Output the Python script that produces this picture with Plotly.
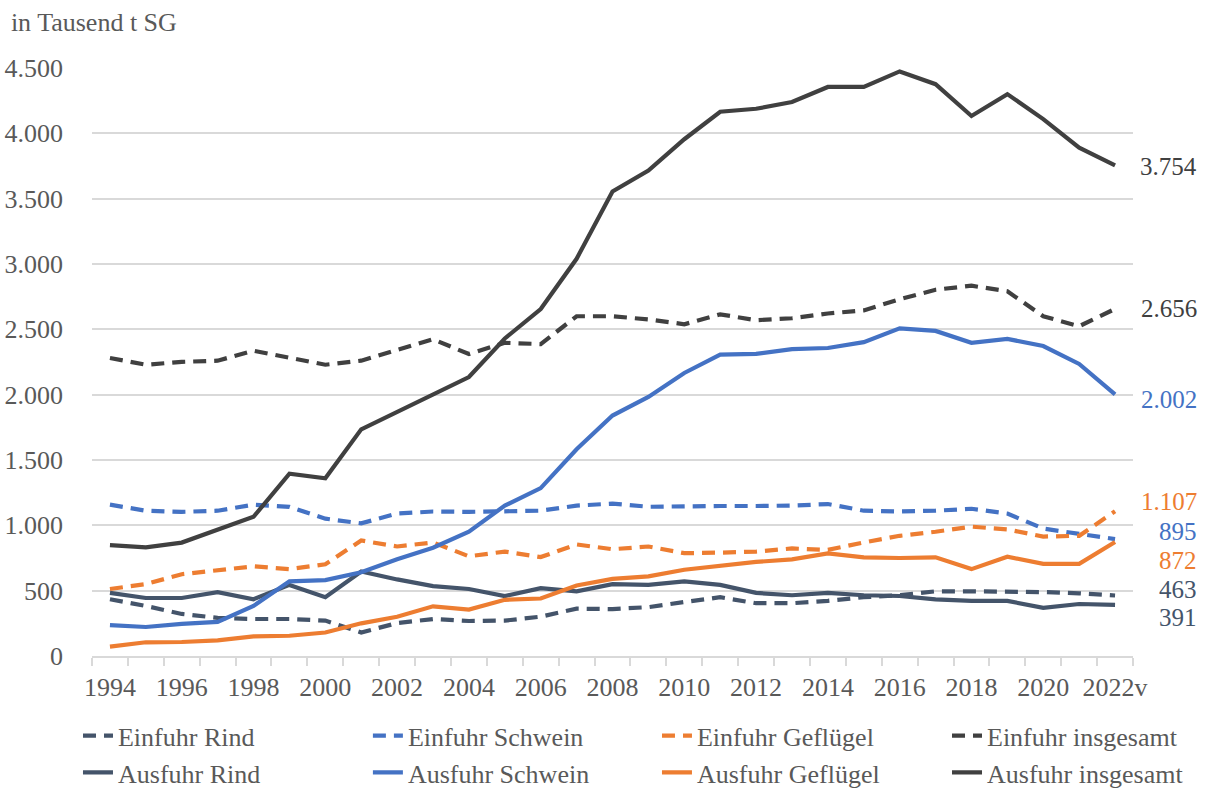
import plotly.graph_objects as go

years = list(range(1994, 2023))
tick_years = list(range(1994, 2023, 2))
tick_text = [str(y) for y in tick_years[:-1]] + ["2022v"]

einfuhr_rind = [434, 383, 322, 292, 283, 283, 271, 180, 252, 283, 268, 271, 301, 362, 359,
                374, 413, 450, 404, 404, 422, 450, 465, 495, 495, 495, 489, 480, 463]
einfuhr_schwein = [1158, 1112, 1103, 1112, 1158, 1142, 1051, 1015, 1090, 1106, 1103, 1106, 1112, 1151, 1166,
                   1142, 1148, 1148, 1148, 1151, 1163, 1112, 1106, 1112, 1127, 1090, 975, 939, 895]
einfuhr_gefluegel = [513, 550, 626, 656, 686, 665, 702, 884, 838, 869, 763, 799, 757, 854, 817,
                     838, 787, 791, 799, 823, 812, 869, 920, 951, 990, 969, 914, 920, 1107]
einfuhr_gesamt = [2281, 2229, 2251, 2260, 2336, 2281, 2229, 2260, 2342, 2424, 2311, 2397, 2387, 2600, 2600,
                  2576, 2539, 2615, 2570, 2585, 2621, 2645, 2730, 2803, 2834, 2791, 2600, 2524, 2656]
ausfuhr_rind = [483, 444, 444, 489, 434, 544, 450, 647, 586, 535, 513, 459, 519, 495, 550,
                544, 571, 544, 483, 465, 483, 465, 459, 434, 422, 422, 368, 398, 391]
ausfuhr_schwein = [237, 222, 246, 261, 383, 571, 581, 641, 741, 829, 951, 1151, 1285, 1582, 1840,
                   1983, 2166, 2306, 2312, 2348, 2357, 2402, 2508, 2488, 2397, 2427, 2372, 2235, 2002]
ausfuhr_gefluegel = [72, 105, 107, 120, 150, 155, 180, 250, 300, 380, 355, 430, 440, 540, 590,
                     610, 660, 690, 720, 740, 785, 755, 750, 755, 665, 760, 705, 705, 872]
ausfuhr_gesamt = [848, 832, 868, 965, 1065, 1395, 1360, 1735, 1870, 2000, 2135, 2430, 2655, 3040, 3555,
                  3715, 3955, 4165, 4188, 4240, 4355, 4355, 4474, 4376, 4133, 4300, 4109, 3890, 3754]

C_RIND = "#44546A"
C_SCHWEIN = "#4472C4"
C_GEFL = "#ED7D31"
C_GESAMT = "#404040"
DASH = "13px,8px"
FONT = "Liberation Serif, Times New Roman, serif"
TXT = "#595959"
FS = 26

# name, values, color, dash, legend column, label yshift (px)
series = [
    ("Einfuhr Rind", einfuhr_rind, C_RIND, DASH, "legend", 6),
    ("Einfuhr Schwein", einfuhr_schwein, C_SCHWEIN, DASH, "legend2", 8),
    ("Einfuhr Geflügel", einfuhr_gefluegel, C_GEFL, DASH, "legend3", 10),
    ("Einfuhr insgesamt", einfuhr_gesamt, C_GESAMT, DASH, "legend4", 0),
    ("Ausfuhr Rind", ausfuhr_rind, C_RIND, "solid", "legend", -13),
    ("Ausfuhr Schwein", ausfuhr_schwein, C_SCHWEIN, "solid", "legend2", -5),
    ("Ausfuhr Geflügel", ausfuhr_gefluegel, C_GEFL, "solid", "legend3", -18),
    ("Ausfuhr insgesamt", ausfuhr_gesamt, C_GESAMT, "solid", "legend4", -1),
]

fig = go.Figure()
annotations = []
for name, vals, color, dash, leg, ysh in series:
    fig.add_trace(go.Scatter(
        x=years, y=vals, name=name, mode="lines", legend=leg,
        line=dict(color=color, width=4.2, dash=dash),
        hoverinfo="skip",
    ))
    annotations.append(dict(
        x=years[-1], y=vals[-1], xref="x", yref="y",
        text=f"{vals[-1]:,}".replace(",", "."),
        showarrow=False, xanchor="right", yanchor="middle",
        xshift=84, yshift=ysh,
        font=dict(family=FONT, size=FS - 1, color=color),
    ))

half_years = [y - 0.5 for y in range(1994, 2024)]

legend_style = dict(
    orientation="v", xref="container", yref="container",
    y=0.0985, xanchor="left", yanchor="top",
    font=dict(family=FONT, size=FS, color=TXT),
    bgcolor="rgba(0,0,0,0)", traceorder="normal",
)
legend_x = [0.0645, 0.3043, 0.5434, 0.7833]

fig.update_layout(
    width=1209, height=790,
    margin=dict(l=92, r=76, t=68, b=134, autoexpand=False),
    paper_bgcolor="white", plot_bgcolor="white",
    separators=",.",
    font=dict(family=FONT, size=FS, color=TXT),
    title=dict(text="in Tausend t SG", xref="container", yref="container",
               x=0.009, y=0.972, xanchor="left", yanchor="middle",
               font=dict(family=FONT, size=FS, color=TXT)),
    xaxis=dict(
        range=[1993.5, 2022.5], tickmode="array", tickvals=tick_years, ticktext=tick_text,
        ticks="", showgrid=False, zeroline=False,
        showline=True, linecolor="#d9d9d9", linewidth=1.5,
        minor=dict(tickmode="array", tickvals=half_years, ticks="outside", ticklen=8,
                   tickcolor="#d9d9d9", tickwidth=1.5, showgrid=False),
        tickfont=dict(family=FONT, size=FS, color=TXT),
        ticklabelstandoff=7, automargin=False,
        fixedrange=True,
    ),
    xaxis2=dict(
        overlaying="x", matches="x", anchor="y", side="bottom",
        range=[1993.5, 2022.5], tickmode="array", tickvals=half_years,
        ticks="inside", ticklen=8, tickcolor="#d9d9d9", tickwidth=1.5,
        showticklabels=False, showgrid=False, zeroline=False, showline=False,
    ),
    yaxis=dict(
        range=[0, 4500], tickmode="array", tickvals=list(range(0, 4501, 500)),
        tickformat=",d", showgrid=True, gridcolor="#d9d9d9", gridwidth=1.5,
        zeroline=False, showline=False, ticks="",
        tickfont=dict(family=FONT, size=FS, color=TXT),
        ticklabelstandoff=28, automargin=False,
        fixedrange=True,
    ),
    legend=dict(x=legend_x[0], **legend_style),
    legend2=dict(x=legend_x[1], **legend_style),
    legend3=dict(x=legend_x[2], **legend_style),
    legend4=dict(x=legend_x[3], **legend_style),
    annotations=annotations,
    showlegend=True,
)

fig.write_html("out.html", config={"displayModeBar": False},
               post_script="document.body.style.margin='0';")
